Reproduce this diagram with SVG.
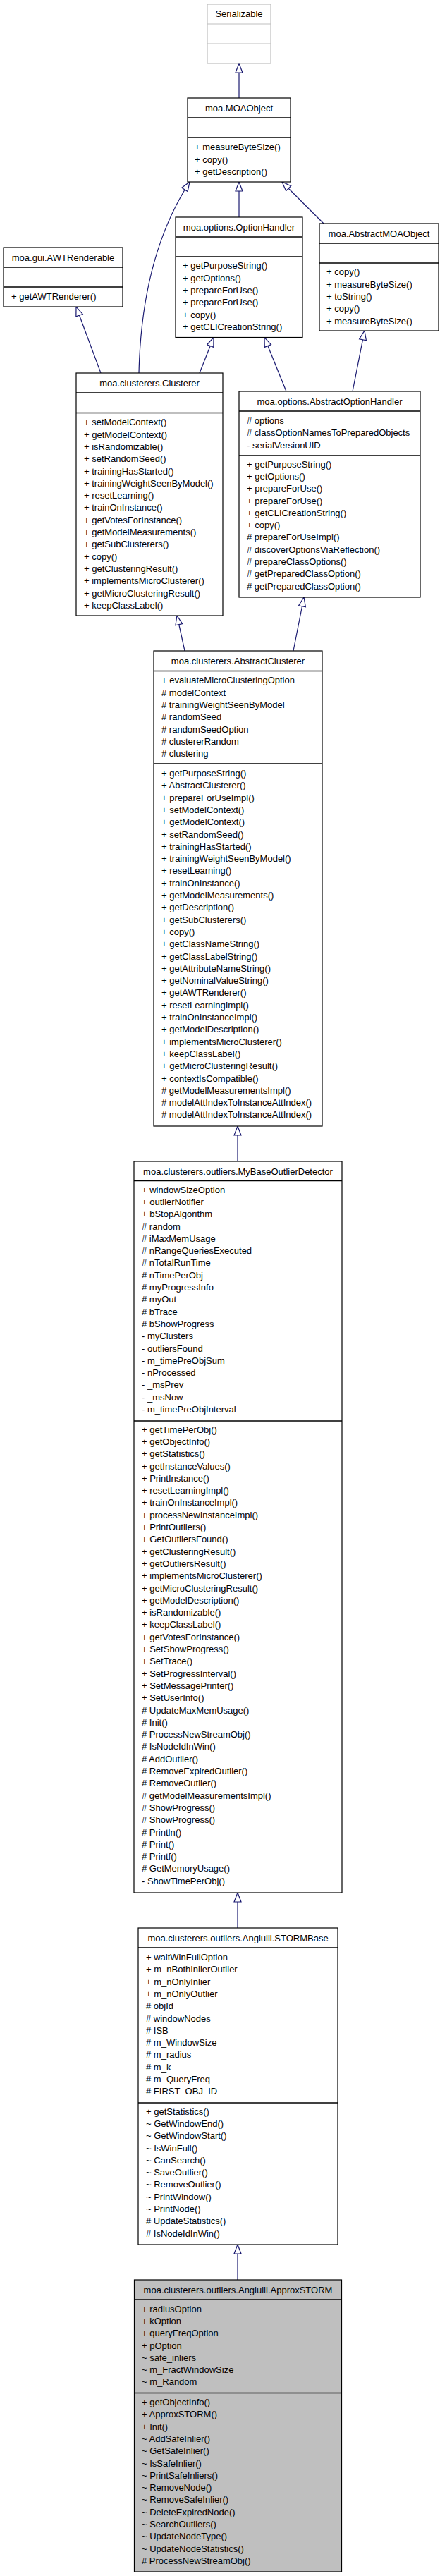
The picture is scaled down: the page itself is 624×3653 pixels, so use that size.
<svg xmlns="http://www.w3.org/2000/svg" width="624" height="3653" viewBox="0 0 624 3653">
<style>
.box{fill:#fff;stroke:#000;stroke-width:1.2}
.gray{fill:#bfbfbf}
.ghost{fill:#fff;stroke:#bfbfbf;stroke-width:1.2}
.sep{stroke:#000;stroke-width:1.6}
.gsep{stroke:#bfbfbf;stroke-width:1.2}
text{font-family:"Liberation Sans",Arial,Helvetica,sans-serif;font-size:13px;fill:#000}
.h{text-anchor:middle}
.edge{fill:none;stroke:#191970;stroke-width:1.2;marker-end:url(#tri)}
</style>
<defs>
<marker id="tri" markerUnits="userSpaceOnUse" markerWidth="16" markerHeight="14" viewBox="-1 -1 16 14" refX="13" refY="5" orient="auto">
<path d="M0,0 L13,5 L0,10 Z" fill="#fff" stroke="#191970" stroke-width="1.2"/>
</marker>
</defs>
<rect width="624" height="3653" fill="#fff"/>

<g id="edges">
<path class="edge" d="M339,139 L339,90"/>
<path class="edge" d="M339,308 L339,258"/>
<path class="edge" d="M459,317 L400,258"/>
<path class="edge" d="M197,529 C200,400 232,315 269,258"/>
<path class="edge" d="M143,529 L108,435"/>
<path class="edge" d="M283,529 L303,478.5"/>
<path class="edge" d="M406,555 L375,478.5"/>
<path class="edge" d="M500,555 L517,469"/>
<path class="edge" d="M262,923 L251,873"/>
<path class="edge" d="M416,923 L431,847"/>
<path class="edge" d="M337,1647 L337,1597"/>
<path class="edge" d="M337,2734 L337,2684"/>
<path class="edge" d="M337,3233 L337,3183"/>
</g>

<g id="node-serializable">
<rect class="ghost" x="294" y="6" width="90" height="84"/>
<line class="gsep" x1="294" y1="34" x2="384" y2="34"/>
<line class="gsep" x1="294" y1="62" x2="384" y2="62"/>
<text class="h" x="339" y="23.5">Serializable</text>
</g>

<g id="node-moaobject">
<rect class="box" x="266" y="139" width="146" height="119"/>
<line class="sep" x1="266" y1="167" x2="412" y2="167"/>
<line class="sep" x1="266" y1="195" x2="412" y2="195"/>
<text class="h" x="339" y="157.5">moa.MOAObject</text>
<text x="276" y="213.3">+ measureByteSize()</text>
<text x="276" y="230.6">+ copy()</text>
<text x="276" y="247.9">+ getDescription()</text>
</g>

<g id="node-awtrenderable">
<rect class="box" x="5" y="351" width="169" height="84"/>
<line class="sep" x1="5" y1="379" x2="174" y2="379"/>
<line class="sep" x1="5" y1="407" x2="174" y2="407"/>
<text class="h" x="89.5" y="369.5">moa.gui.AWTRenderable</text>
<text x="16" y="425.3">+ getAWTRenderer()</text>
</g>

<g id="node-optionhandler">
<rect class="box" x="249" y="308" width="180" height="170.5"/>
<line class="sep" x1="249" y1="336" x2="429" y2="336"/>
<line class="sep" x1="249" y1="364" x2="429" y2="364"/>
<text class="h" x="339" y="326.5">moa.options.OptionHandler</text>
<text x="259" y="381.3">+ getPurposeString()</text>
<text x="259" y="398.6">+ getOptions()</text>
<text x="259" y="415.9">+ prepareForUse()</text>
<text x="259" y="433.2">+ prepareForUse()</text>
<text x="259" y="450.5">+ copy()</text>
<text x="259" y="467.8">+ getCLICreationString()</text>
</g>

<g id="node-abstractmoaobject">
<rect class="box" x="453" y="317" width="169" height="152"/>
<line class="sep" x1="453" y1="345" x2="622" y2="345"/>
<line class="sep" x1="453" y1="373" x2="622" y2="373"/>
<text class="h" x="537.5" y="335.5">moa.AbstractMOAObject</text>
<text x="463" y="390.3">+ copy()</text>
<text x="463" y="407.6">+ measureByteSize()</text>
<text x="463" y="424.9">+ toString()</text>
<text x="463" y="442.2">+ copy()</text>
<text x="463" y="459.5">+ measureByteSize()</text>
</g>

<g id="node-clusterer">
<rect class="box" x="108" y="529" width="208" height="344"/>
<line class="sep" x1="108" y1="557" x2="316" y2="557"/>
<line class="sep" x1="108" y1="585.5" x2="316" y2="585.5"/>
<text class="h" x="212" y="547.5">moa.clusterers.Clusterer</text>
<text x="119" y="603.3">+ setModelContext()</text>
<text x="119" y="620.6">+ getModelContext()</text>
<text x="119" y="637.9">+ isRandomizable()</text>
<text x="119" y="655.2">+ setRandomSeed()</text>
<text x="119" y="672.5">+ trainingHasStarted()</text>
<text x="119" y="689.8">+ trainingWeightSeenByModel()</text>
<text x="119" y="707.1">+ resetLearning()</text>
<text x="119" y="724.4">+ trainOnInstance()</text>
<text x="119" y="741.7">+ getVotesForInstance()</text>
<text x="119" y="759.0">+ getModelMeasurements()</text>
<text x="119" y="776.3">+ getSubClusterers()</text>
<text x="119" y="793.6">+ copy()</text>
<text x="119" y="810.9">+ getClusteringResult()</text>
<text x="119" y="828.2">+ implementsMicroClusterer()</text>
<text x="119" y="845.5">+ getMicroClusteringResult()</text>
<text x="119" y="862.8">+ keepClassLabel()</text>
</g>

<g id="node-abstractoptionhandler">
<rect class="box" x="339" y="555" width="257" height="292"/>
<line class="sep" x1="339" y1="583" x2="596" y2="583"/>
<line class="sep" x1="339" y1="646" x2="596" y2="646"/>
<text class="h" x="467.5" y="573.5">moa.options.AbstractOptionHandler</text>
<text x="350" y="601"># options</text>
<text x="350" y="618.3"># classOptionNamesToPreparedObjects</text>
<text x="350" y="635.6">- serialVersionUID</text>
<text x="350" y="662.6">+ getPurposeString()</text>
<text x="350" y="679.9">+ getOptions()</text>
<text x="350" y="697.2">+ prepareForUse()</text>
<text x="350" y="714.5">+ prepareForUse()</text>
<text x="350" y="731.8">+ getCLICreationString()</text>
<text x="350" y="749.1">+ copy()</text>
<text x="350" y="766.4"># prepareForUseImpl()</text>
<text x="350" y="783.7"># discoverOptionsViaReflection()</text>
<text x="350" y="801.0"># prepareClassOptions()</text>
<text x="350" y="818.3"># getPreparedClassOption()</text>
<text x="350" y="835.6"># getPreparedClassOption()</text>
</g>

<g id="node-abstractclusterer">
<rect class="box" x="218" y="923" width="239" height="674"/>
<line class="sep" x1="218" y1="951.5" x2="457" y2="951.5"/>
<line class="sep" x1="218" y1="1083" x2="457" y2="1083"/>
<text class="h" x="337.5" y="941.5">moa.clusterers.AbstractClusterer</text>
<text x="229" y="969.3">+ evaluateMicroClusteringOption</text>
<text x="229" y="986.6"># modelContext</text>
<text x="229" y="1003.9"># trainingWeightSeenByModel</text>
<text x="229" y="1021.2"># randomSeed</text>
<text x="229" y="1038.5"># randomSeedOption</text>
<text x="229" y="1055.8"># clustererRandom</text>
<text x="229" y="1073.1"># clustering</text>
<text x="229" y="1101.0">+ getPurposeString()</text>
<text x="229" y="1118.3">+ AbstractClusterer()</text>
<text x="229" y="1135.6">+ prepareForUseImpl()</text>
<text x="229" y="1152.9">+ setModelContext()</text>
<text x="229" y="1170.2">+ getModelContext()</text>
<text x="229" y="1187.5">+ setRandomSeed()</text>
<text x="229" y="1204.8">+ trainingHasStarted()</text>
<text x="229" y="1222.1">+ trainingWeightSeenByModel()</text>
<text x="229" y="1239.4">+ resetLearning()</text>
<text x="229" y="1256.7">+ trainOnInstance()</text>
<text x="229" y="1274.0">+ getModelMeasurements()</text>
<text x="229" y="1291.3">+ getDescription()</text>
<text x="229" y="1308.6">+ getSubClusterers()</text>
<text x="229" y="1325.9">+ copy()</text>
<text x="229" y="1343.2">+ getClassNameString()</text>
<text x="229" y="1360.5">+ getClassLabelString()</text>
<text x="229" y="1377.8">+ getAttributeNameString()</text>
<text x="229" y="1395.1">+ getNominalValueString()</text>
<text x="229" y="1412.4">+ getAWTRenderer()</text>
<text x="229" y="1429.7">+ resetLearningImpl()</text>
<text x="229" y="1447.0">+ trainOnInstanceImpl()</text>
<text x="229" y="1464.3">+ getModelDescription()</text>
<text x="229" y="1481.6">+ implementsMicroClusterer()</text>
<text x="229" y="1498.9">+ keepClassLabel()</text>
<text x="229" y="1516.2">+ getMicroClusteringResult()</text>
<text x="229" y="1533.5">+ contextIsCompatible()</text>
<text x="229" y="1550.8"># getModelMeasurementsImpl()</text>
<text x="229" y="1568.1"># modelAttIndexToInstanceAttIndex()</text>
<text x="229" y="1585.4"># modelAttIndexToInstanceAttIndex()</text>
</g>

<g id="node-mybaseoutlierdetector">
<rect class="box" x="190" y="1647" width="295" height="1037"/>
<line class="sep" x1="190" y1="1674.5" x2="485" y2="1674.5"/>
<line class="sep" x1="190" y1="2015" x2="485" y2="2015"/>
<text class="h" x="337.5" y="1665.5">moa.clusterers.outliers.MyBaseOutlierDetector</text>
<text x="201" y="1691.6">+ windowSizeOption</text>
<text x="201" y="1708.9">+ outlierNotifier</text>
<text x="201" y="1726.2">+ bStopAlgorithm</text>
<text x="201" y="1743.5"># random</text>
<text x="201" y="1760.8"># iMaxMemUsage</text>
<text x="201" y="1778.1"># nRangeQueriesExecuted</text>
<text x="201" y="1795.4"># nTotalRunTime</text>
<text x="201" y="1812.7"># nTimePerObj</text>
<text x="201" y="1830.0"># myProgressInfo</text>
<text x="201" y="1847.3"># myOut</text>
<text x="201" y="1864.6"># bTrace</text>
<text x="201" y="1881.9"># bShowProgress</text>
<text x="201" y="1899.2">- myClusters</text>
<text x="201" y="1916.5">- outliersFound</text>
<text x="201" y="1933.8">- m_timePreObjSum</text>
<text x="201" y="1951.1">- nProcessed</text>
<text x="201" y="1968.4">- _msPrev</text>
<text x="201" y="1985.7">- _msNow</text>
<text x="201" y="2003.0">- m_timePreObjInterval</text>
<text x="201" y="2031.6">+ getTimePerObj()</text>
<text x="201" y="2048.9">+ getObjectInfo()</text>
<text x="201" y="2066.2">+ getStatistics()</text>
<text x="201" y="2083.5">+ getInstanceValues()</text>
<text x="201" y="2100.8">+ PrintInstance()</text>
<text x="201" y="2118.1">+ resetLearningImpl()</text>
<text x="201" y="2135.4">+ trainOnInstanceImpl()</text>
<text x="201" y="2152.7">+ processNewInstanceImpl()</text>
<text x="201" y="2170.0">+ PrintOutliers()</text>
<text x="201" y="2187.3">+ GetOutliersFound()</text>
<text x="201" y="2204.6">+ getClusteringResult()</text>
<text x="201" y="2221.9">+ getOutliersResult()</text>
<text x="201" y="2239.2">+ implementsMicroClusterer()</text>
<text x="201" y="2256.5">+ getMicroClusteringResult()</text>
<text x="201" y="2273.8">+ getModelDescription()</text>
<text x="201" y="2291.1">+ isRandomizable()</text>
<text x="201" y="2308.4">+ keepClassLabel()</text>
<text x="201" y="2325.7">+ getVotesForInstance()</text>
<text x="201" y="2343.0">+ SetShowProgress()</text>
<text x="201" y="2360.3">+ SetTrace()</text>
<text x="201" y="2377.6">+ SetProgressInterval()</text>
<text x="201" y="2394.9">+ SetMessagePrinter()</text>
<text x="201" y="2412.2">+ SetUserInfo()</text>
<text x="201" y="2429.5"># UpdateMaxMemUsage()</text>
<text x="201" y="2446.8"># Init()</text>
<text x="201" y="2464.1"># ProcessNewStreamObj()</text>
<text x="201" y="2481.4"># IsNodeIdInWin()</text>
<text x="201" y="2498.7"># AddOutlier()</text>
<text x="201" y="2516.0"># RemoveExpiredOutlier()</text>
<text x="201" y="2533.3"># RemoveOutlier()</text>
<text x="201" y="2550.6"># getModelMeasurementsImpl()</text>
<text x="201" y="2567.9"># ShowProgress()</text>
<text x="201" y="2585.2"># ShowProgress()</text>
<text x="201" y="2602.5"># Println()</text>
<text x="201" y="2619.8"># Print()</text>
<text x="201" y="2637.1"># Printf()</text>
<text x="201" y="2654.4"># GetMemoryUsage()</text>
<text x="201" y="2671.7">- ShowTimePerObj()</text>
</g>

<g id="node-stormbase">
<rect class="box" x="196" y="2734" width="283" height="449"/>
<line class="sep" x1="196" y1="2762" x2="479" y2="2762"/>
<line class="sep" x1="196" y1="2982" x2="479" y2="2982"/>
<text class="h" x="337.5" y="2752.5">moa.clusterers.outliers.Angiulli.STORMBase</text>
<text x="207" y="2780.0">+ waitWinFullOption</text>
<text x="207" y="2797.3">+ m_nBothInlierOutlier</text>
<text x="207" y="2814.6">+ m_nOnlyInlier</text>
<text x="207" y="2831.9">+ m_nOnlyOutlier</text>
<text x="207" y="2849.2"># objId</text>
<text x="207" y="2866.5"># windowNodes</text>
<text x="207" y="2883.8"># ISB</text>
<text x="207" y="2901.1"># m_WindowSize</text>
<text x="207" y="2918.4"># m_radius</text>
<text x="207" y="2935.7"># m_k</text>
<text x="207" y="2953.0"># m_QueryFreq</text>
<text x="207" y="2970.3"># FIRST_OBJ_ID</text>
<text x="207" y="2998.6">+ getStatistics()</text>
<text x="207" y="3015.9">~ GetWindowEnd()</text>
<text x="207" y="3033.2">~ GetWindowStart()</text>
<text x="207" y="3050.5">~ IsWinFull()</text>
<text x="207" y="3067.8">~ CanSearch()</text>
<text x="207" y="3085.1">~ SaveOutlier()</text>
<text x="207" y="3102.4">~ RemoveOutlier()</text>
<text x="207" y="3119.7">~ PrintWindow()</text>
<text x="207" y="3137.0">~ PrintNode()</text>
<text x="207" y="3154.3"># UpdateStatistics()</text>
<text x="207" y="3171.6"># IsNodeIdInWin()</text>
</g>

<g id="node-approxstorm">
<rect class="box gray" x="190.5" y="3233" width="294" height="414"/>
<line class="sep" x1="190.5" y1="3261" x2="484.5" y2="3261"/>
<line class="sep" x1="190.5" y1="3393.5" x2="484.5" y2="3393.5"/>
<text class="h" x="337.5" y="3251.5">moa.clusterers.outliers.Angiulli.ApproxSTORM</text>
<text x="201" y="3278.6">+ radiusOption</text>
<text x="201" y="3295.9">+ kOption</text>
<text x="201" y="3313.2">+ queryFreqOption</text>
<text x="201" y="3330.5">+ pOption</text>
<text x="201" y="3347.8">~ safe_inliers</text>
<text x="201" y="3365.1">~ m_FractWindowSize</text>
<text x="201" y="3382.4">~ m_Random</text>
<text x="201" y="3411.0">+ getObjectInfo()</text>
<text x="201" y="3428.3">+ ApproxSTORM()</text>
<text x="201" y="3445.6">+ Init()</text>
<text x="201" y="3462.9">~ AddSafeInlier()</text>
<text x="201" y="3480.2">~ GetSafeInlier()</text>
<text x="201" y="3497.5">~ IsSafeInlier()</text>
<text x="201" y="3514.8">~ PrintSafeInliers()</text>
<text x="201" y="3532.1">~ RemoveNode()</text>
<text x="201" y="3549.4">~ RemoveSafeInlier()</text>
<text x="201" y="3566.7">~ DeleteExpiredNode()</text>
<text x="201" y="3584.0">~ SearchOutliers()</text>
<text x="201" y="3601.3">~ UpdateNodeType()</text>
<text x="201" y="3618.6">~ UpdateNodeStatistics()</text>
<text x="201" y="3635.9"># ProcessNewStreamObj()</text>
</g>
</svg>
